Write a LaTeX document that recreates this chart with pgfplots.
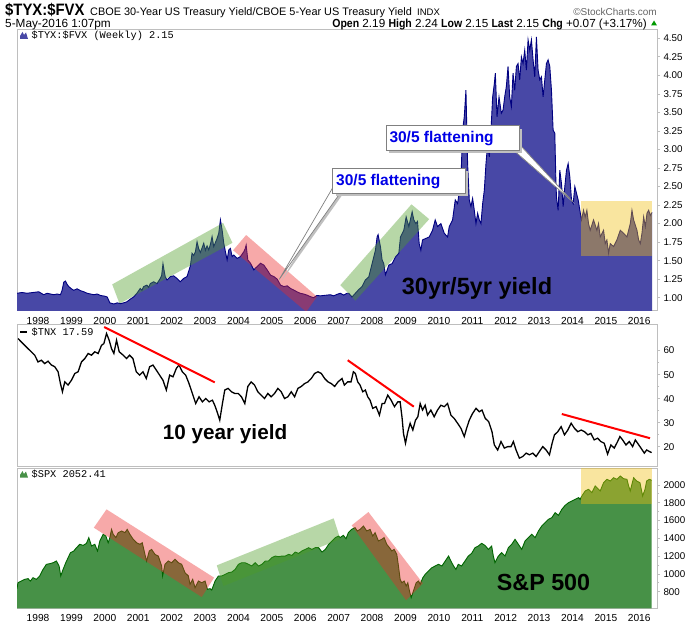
\documentclass[border=0pt]{standalone}
\usepackage{fontspec}
\setmainfont{Liberation Sans}
\newfontfamily\monofont{Liberation Mono}
\newfontfamily\narrowfont[FakeStretch=0.9]{Liberation Sans}
\usepackage{pgfplots}
\pgfplotsset{compat=1.18}
\usepackage{pgfplotstable}

\definecolor{blueArea}{RGB}{72,72,166}
\definecolor{blueLine}{RGB}{0,0,128}
\definecolor{spxArea}{RGB}{71,145,71}
\definecolor{spxLine}{RGB}{0,100,0}
\definecolor{bandGreen}{RGB}{77,157,37}
\definecolor{bandPink}{RGB}{235,40,40}
\definecolor{bandYellow}{RGB}{242,192,17}
\definecolor{frameGray}{RGB}{190,190,190}
\definecolor{boxGray}{RGB}{128,128,128}
\definecolor{calloutBlue}{RGB}{0,0,230}

\pgfplotstableread{
x y
1997.37 1.06
1997.52 1.07
1997.67 1.06
1997.85 1.07
1998.02 1.08
1998.17 1.04
1998.27 1.06
1998.37 1.05
1998.47 1.04
1998.57 1.05
1998.67 1.04
1998.72 1.10
1998.77 1.21
1998.82 1.225
1998.87 1.18
1998.92 1.15
1999.00 1.12
1999.07 1.10
1999.17 1.12
1999.27 1.095
1999.37 1.08
1999.47 1.06
1999.57 1.05
1999.67 1.04
1999.77 1.05
1999.87 1.03
2000.00 1.02
2000.07 1.01
2000.15 0.93
2000.27 0.915
2000.37 0.93
2000.47 0.92
2000.56 0.93
2000.66 0.945
2000.76 0.98
2000.86 1.01
2000.96 1.06
2001.06 1.125
2001.11 1.10
2001.16 1.15
2001.26 1.17
2001.31 1.14
2001.36 1.19
2001.46 1.215
2001.56 1.19
2001.66 1.26
2001.70 1.30
2001.74 1.46
2001.78 1.35
2001.81 1.28
2001.86 1.24
2001.96 1.285
2002.06 1.295
2002.16 1.26
2002.26 1.215
2002.36 1.26
2002.46 1.285
2002.56 1.43
2002.61 1.60
2002.66 1.57
2002.71 1.62
2002.76 1.755
2002.81 1.66
2002.86 1.61
2002.96 1.735
2003.01 1.64
2003.06 1.70
2003.11 1.645
2003.16 1.72
2003.21 1.825
2003.26 1.69
2003.36 1.80
2003.41 1.87
2003.46 2.05
2003.51 1.915
2003.56 1.735
2003.61 1.62
2003.66 1.51
2003.71 1.645
2003.76 1.665
2003.81 1.555
2003.86 1.575
2003.96 1.53
2004.06 1.555
2004.16 1.62
2004.20 1.66
2004.23 1.71
2004.28 1.51
2004.36 1.465
2004.46 1.375
2004.51 1.40
2004.56 1.42
2004.66 1.465
2004.76 1.44
2004.86 1.375
2004.96 1.305
2005.06 1.285
2005.16 1.25
2005.26 1.17
2005.36 1.15
2005.46 1.16
2005.56 1.125
2005.65 1.105
2005.75 1.08
2005.85 1.06
2005.95 1.05
2006.05 1.035
2006.15 1.015
2006.25 1.00
2006.35 1.03
2006.45 1.025
2006.55 1.03
2006.65 1.035
2006.75 1.04
2006.85 1.025
2006.95 1.045
2007.05 1.06
2007.15 1.035
2007.25 1.06
2007.30 1.06
2007.40 1.01
2007.50 1.06
2007.60 1.11
2007.70 1.15
2007.80 1.24
2007.90 1.28
2008.00 1.46
2008.10 1.64
2008.15 1.82
2008.18 1.85
2008.25 1.69
2008.30 1.51
2008.35 1.46
2008.40 1.31
2008.45 1.37
2008.50 1.44
2008.60 1.46
2008.70 1.55
2008.80 1.60
2008.85 1.82
2008.95 1.91
2009.02 2.09
2009.10 1.96
2009.20 2.16
2009.25 2.05
2009.31 2.00
2009.36 2.03
2009.41 1.73
2009.46 1.64
2009.51 1.78
2009.61 1.80
2009.71 1.82
2009.81 1.91
2009.89 2.05
2009.96 1.96
2010.06 2.00
2010.16 1.87
2010.26 1.82
2010.31 1.96
2010.41 2.05
2010.49 2.32
2010.56 2.27
2010.66 2.59
2010.71 3.26
2010.76 3.44
2010.81 3.80
2010.86 2.81
2010.91 2.32
2010.96 2.23
2011.01 2.34
2011.06 2.18
2011.11 2.00
2011.16 2.14
2011.21 2.05
2011.26 2.00
2011.31 2.27
2011.36 2.45
2011.41 2.81
2011.46 3.08
2011.51 2.90
2011.56 3.26
2011.61 3.71
2011.66 3.89
2011.69 4.03
2011.74 3.44
2011.80 3.71
2011.87 3.49
2011.92 3.53
2011.97 3.71
2012.02 3.85
2012.07 4.12
2012.12 3.71
2012.17 3.58
2012.22 4.03
2012.27 3.80
2012.32 4.12
2012.37 4.16
2012.42 3.94
2012.47 4.25
2012.52 4.16
2012.57 4.34
2012.62 4.07
2012.67 4.48
2012.72 4.34
2012.77 4.48
2012.82 4.21
2012.87 3.98
2012.92 4.52
2012.97 4.07
2013.02 3.94
2013.07 3.98
2013.12 3.71
2013.17 3.94
2013.22 4.16
2013.27 4.21
2013.32 4.12
2013.37 3.80
2013.42 3.26
2013.47 3.22
2013.50 2.63
2013.52 2.36
2013.57 2.18
2013.62 2.72
2013.67 2.54
2013.72 2.23
2013.77 2.50
2013.82 2.72
2013.87 2.81
2013.92 2.63
2013.97 2.32
2014.02 2.27
2014.07 2.50
2014.12 2.41
2014.17 2.32
2014.22 2.18
2014.27 2.05
2014.33 2.18
2014.38 2.09
2014.43 2.18
2014.48 2.00
2014.53 1.91
2014.63 2.05
2014.73 1.91
2014.78 2.00
2014.83 1.82
2014.93 1.91
2014.98 1.73
2015.03 1.78
2015.08 1.60
2015.13 1.73
2015.23 1.69
2015.33 1.78
2015.43 1.91
2015.53 1.87
2015.63 1.82
2015.73 2.00
2015.78 2.18
2015.83 2.05
2015.93 1.91
2015.98 1.78
2016.03 1.73
2016.08 1.87
2016.13 2.09
2016.18 1.96
2016.23 2.14
2016.28 2.18
2016.33 2.11
2016.38 2.15
}\tyx

\pgfplotstableread{
x y
1997.40 65.0
1997.50 63.6
1997.60 62.2
1997.70 60.8
1997.80 59.5
1997.90 58.1
1998.00 55.3
1998.10 56.0
1998.20 54.6
1998.30 55.6
1998.40 54.0
1998.50 53.3
1998.60 51.2
1998.67 46.3
1998.73 42.9
1998.80 47.0
1998.90 45.7
1999.00 47.7
1999.10 50.5
1999.20 51.2
1999.30 55.3
1999.40 56.7
1999.50 58.8
1999.60 58.1
1999.70 59.5
1999.80 58.8
1999.90 62.2
1999.97 62.9
2000.05 67.1
2000.13 64.3
2000.20 60.8
2000.27 58.8
2000.35 64.3
2000.43 59.5
2000.55 58.1
2000.65 56.7
2000.74 58.1
2000.84 56.7
2000.94 51.2
2001.04 49.8
2001.14 51.2
2001.24 48.4
2001.34 53.3
2001.44 54.0
2001.54 51.9
2001.64 49.8
2001.74 47.7
2001.84 43.6
2001.94 49.8
2002.04 49.1
2002.14 52.6
2002.22 54.0
2002.32 51.2
2002.42 49.8
2002.52 46.3
2002.62 42.2
2002.72 38.0
2002.82 40.8
2002.92 38.7
2003.02 40.1
2003.12 38.7
2003.22 39.4
2003.29 37.3
2003.36 34.6
2003.44 31.1
2003.52 38.0
2003.59 43.6
2003.69 44.3
2003.79 42.9
2003.89 42.2
2003.99 42.2
2004.09 40.8
2004.19 38.0
2004.28 45.1
2004.38 47.0
2004.48 45.7
2004.58 42.9
2004.68 41.5
2004.78 40.1
2004.88 42.2
2004.98 40.8
2005.08 42.2
2005.18 44.3
2005.28 42.9
2005.38 40.1
2005.48 40.8
2005.58 42.9
2005.68 40.8
2005.78 44.3
2005.88 45.1
2005.98 46.3
2006.08 47.0
2006.18 48.4
2006.28 50.5
2006.38 51.2
2006.48 50.5
2006.58 48.4
2006.68 47.0
2006.78 46.3
2006.88 45.1
2006.98 47.0
2007.10 48.4
2007.17 45.7
2007.27 47.0
2007.37 47.0
2007.44 51.2
2007.50 50.5
2007.57 47.0
2007.64 45.7
2007.72 42.9
2007.80 43.6
2007.87 40.8
2007.94 39.4
2008.02 36.0
2008.12 36.7
2008.22 33.2
2008.30 38.0
2008.37 38.0
2008.47 41.5
2008.57 39.4
2008.67 36.7
2008.77 38.7
2008.84 38.7
2008.90 31.8
2008.94 25.6
2009.00 21.5
2009.07 26.3
2009.14 29.8
2009.22 27.0
2009.30 31.1
2009.37 32.5
2009.44 38.0
2009.51 35.3
2009.59 37.3
2009.66 33.2
2009.76 35.3
2009.86 32.5
2009.96 35.3
2010.06 37.3
2010.16 36.7
2010.26 38.0
2010.36 33.2
2010.46 31.8
2010.56 29.8
2010.66 27.7
2010.76 24.3
2010.83 27.7
2010.91 31.1
2011.01 33.9
2011.11 36.0
2011.21 34.6
2011.29 35.3
2011.39 31.8
2011.49 30.5
2011.59 26.3
2011.66 20.8
2011.76 18.7
2011.86 22.2
2011.96 19.5
2012.06 20.1
2012.16 20.1
2012.23 22.2
2012.31 18.7
2012.41 15.3
2012.51 16.0
2012.61 17.4
2012.71 16.7
2012.81 17.4
2012.91 16.0
2013.01 18.1
2013.11 20.1
2013.21 18.7
2013.31 16.7
2013.39 21.5
2013.46 25.0
2013.56 26.3
2013.66 28.4
2013.76 25.0
2013.86 27.0
2013.96 29.8
2014.06 27.7
2014.16 26.3
2014.26 27.0
2014.36 26.3
2014.46 25.0
2014.55 25.6
2014.65 22.9
2014.75 23.6
2014.85 22.2
2014.95 21.5
2015.05 17.0
2015.15 20.8
2015.25 19.5
2015.35 22.2
2015.42 24.3
2015.50 22.9
2015.60 20.8
2015.70 22.2
2015.80 20.1
2015.88 22.9
2015.95 21.5
2016.05 19.5
2016.15 17.4
2016.22 18.7
2016.30 18.1
2016.37 17.6
}\tnx

\pgfplotstableread{
x y
1997.37 834
1997.40 901
1997.50 920
1997.60 939
1997.70 947
1997.77 920
1997.85 958
1997.95 939
1998.05 977
1998.15 1051
1998.25 1108
1998.35 1115
1998.45 1126
1998.55 1145
1998.63 1089
1998.68 977
1998.75 1051
1998.83 1126
1998.90 1183
1998.97 1239
1999.07 1258
1999.15 1295
1999.25 1333
1999.35 1321
1999.45 1344
1999.52 1408
1999.60 1314
1999.70 1333
1999.78 1258
1999.85 1370
1999.95 1445
2000.03 1426
2000.10 1351
2000.15 1408
2000.20 1501
2000.25 1445
2000.33 1408
2000.40 1464
2000.50 1483
2000.60 1464
2000.67 1501
2000.75 1445
2000.85 1389
2000.95 1351
2001.05 1333
2001.12 1351
2001.20 1220
2001.25 1145
2001.33 1258
2001.40 1276
2001.50 1220
2001.60 1201
2001.70 1089
2001.73 977
2001.80 1108
2001.90 1145
2002.00 1126
2002.10 1164
2002.20 1126
2002.30 1108
2002.40 1014
2002.50 977
2002.55 883
2002.63 939
2002.70 845
2002.80 920
2002.90 901
2003.00 920
2003.07 827
2003.15 834
2003.20 819
2003.30 920
2003.40 977
2003.50 977
2003.60 995
2003.70 1014
2003.80 1021
2003.90 1051
2004.00 1108
2004.10 1126
2004.20 1126
2004.30 1108
2004.40 1089
2004.50 1126
2004.60 1089
2004.70 1108
2004.80 1145
2004.90 1145
2005.00 1183
2005.10 1201
2005.20 1194
2005.30 1201
2005.40 1201
2005.50 1220
2005.60 1209
2005.70 1246
2005.80 1231
2005.90 1258
2006.00 1276
2006.10 1295
2006.20 1276
2006.30 1295
2006.40 1295
2006.50 1246
2006.60 1276
2006.70 1333
2006.80 1370
2006.90 1408
2007.00 1426
2007.04 1408
2007.14 1434
2007.22 1396
2007.29 1464
2007.39 1501
2007.49 1520
2007.56 1483
2007.64 1501
2007.74 1539
2007.84 1483
2007.94 1501
2008.02 1426
2008.09 1464
2008.19 1370
2008.29 1389
2008.36 1408
2008.44 1333
2008.52 1295
2008.59 1258
2008.66 1276
2008.74 1220
2008.79 1089
2008.84 939
2008.89 901
2008.96 920
2009.02 864
2009.07 901
2009.12 808
2009.17 733
2009.22 789
2009.27 845
2009.32 901
2009.39 920
2009.44 883
2009.52 958
2009.59 995
2009.69 1033
2009.79 1070
2009.89 1089
2009.99 1108
2010.09 1089
2010.19 1145
2010.29 1201
2010.36 1145
2010.44 1089
2010.51 1051
2010.58 1108
2010.68 1089
2010.78 1145
2010.88 1201
2010.98 1231
2011.08 1295
2011.18 1314
2011.28 1344
2011.38 1321
2011.48 1276
2011.58 1314
2011.63 1201
2011.68 1126
2011.78 1201
2011.88 1239
2011.98 1201
2012.08 1295
2012.18 1333
2012.28 1389
2012.38 1333
2012.48 1276
2012.58 1370
2012.68 1408
2012.78 1445
2012.88 1408
2012.98 1483
2013.08 1539
2013.18 1576
2013.28 1614
2013.38 1633
2013.48 1689
2013.58 1659
2013.68 1726
2013.78 1771
2013.88 1801
2013.98 1820
2014.08 1839
2014.18 1858
2014.23 1839
2014.28 1876
2014.38 1933
2014.48 1951
2014.58 1914
2014.68 1989
2014.73 1970
2014.83 1933
2014.93 2026
2015.03 2064
2015.13 2045
2015.23 2082
2015.33 2064
2015.43 2101
2015.53 2071
2015.63 2064
2015.68 1990
2015.73 1933
2015.78 2010
2015.83 2082
2015.92 2045
2016.02 2026
2016.10 1876
2016.17 1951
2016.22 2045
2016.30 2064
2016.37 2052
}\spx

\pgfplotsset{
  panel/.style={
    scale only axis, width=640pt, anchor=south west,
    xmin=1997.37, xmax=2016.53,
    axis line style={draw=frameGray, line width=1pt},
    ytick pos=right, yticklabel pos=right,
    tick align=outside,
    major tick length=3pt, minor tick length=2pt,
    every tick/.style={draw=frameGray, line width=0.8pt},
    /pgf/number format/assume math mode=true,
    /pgf/number format/1000 sep={},
    yticklabel style={font=\fontsize{9.8}{10}\selectfont, anchor=west},
    xticklabel style={font=\fontsize{10.2}{11}\selectfont},
    xtick={1998,1999,...,2016},
  }
}

\begin{document}
\begin{tikzpicture}
\path[use as bounding box, fill=white] (0pt,0pt) rectangle (700pt,624pt);

% ---------- Panel 1 ----------
\begin{axis}[panel, at={(17pt,313pt)}, height=281pt,
  ymin=0.8205, ymax=4.6127,
  ytick={1,1.25,1.5,1.75,2,2.25,2.5,2.75,3,3.25,3.5,3.75,4,4.25,4.5},
  yticklabel style={/pgf/number format/.cd, fixed, fixed zerofill, precision=2},
  xtick pos=bottom, xtick style={draw=none}]
\addplot[draw=none, fill=blueArea] table {\tyx} \closedcycle;
\addplot[blueLine, line width=0.9pt] table {\tyx};
\fill[bandGreen, opacity=0.4] (axis cs:2000.22,1.18) -- (axis cs:2003.54,2.01) -- (axis cs:2003.82,1.74) -- (axis cs:2000.44,0.92) -- cycle;
\fill[bandPink, opacity=0.4] (axis cs:2004.23,1.846) -- (axis cs:2006.35,1.014) -- (axis cs:2006.03,0.81) -- (axis cs:2003.84,1.64) -- cycle;
\fill[bandGreen, opacity=0.4] (axis cs:2007.05,1.17) -- (axis cs:2009.18,2.26) -- (axis cs:2009.71,2.06) -- (axis cs:2007.50,0.96) -- cycle;
\fill[bandYellow, opacity=0.4] (axis cs:2014.25,1.56) rectangle (axis cs:2016.38,2.30);
\end{axis}

% ---------- Panel 2 ----------
\begin{axis}[panel, at={(17pt,158pt)}, height=141pt,
  ymin=12.05, ymax=70.64,
  ytick={20,30,40,50,60}, minor y tick num=1,
  xtick pos=top, xticklabels={}]
\addplot[black, line width=1.3pt] table {\tnx};
\draw[red, line width=2pt] (axis cs:1999.98,69.8) -- (axis cs:2003.29,46.8);
\draw[red, line width=2pt] (axis cs:2007.27,56.0) -- (axis cs:2009.25,36.7);
\draw[red, line width=2pt] (axis cs:2013.68,33.65) -- (axis cs:2016.32,23.6);
\end{axis}

% ---------- Panel 3 ----------
\begin{axis}[panel, at={(17pt,15.7pt)}, height=139.8pt,
  ymin=613.4, ymax=2185.6,
  ytick={800,1000,1200,1400,1600,1800,2000}, minor y tick num=1,
  xtick pos=bottom, xtick style={draw=none}]
\addplot[draw=none, fill=spxArea] table {\spx} \closedcycle;
\addplot[spxLine, line width=0.9pt] table {\spx};
\fill[bandPink, opacity=0.4] (axis cs:2000.05,1726) -- (axis cs:2003.27,958) -- (axis cs:2002.90,740) -- (axis cs:1999.67,1520) -- cycle;
\fill[bandGreen, opacity=0.4] (axis cs:2003.35,1096) -- (axis cs:2006.85,1625) -- (axis cs:2007.05,1393) -- (axis cs:2003.55,864) -- cycle;
\fill[bandPink, opacity=0.4] (axis cs:2007.39,1546) -- (axis cs:2007.89,1696) -- (axis cs:2009.52,894) -- (axis cs:2009.02,703) -- cycle;
\fill[bandYellow, opacity=0.4] (axis cs:2014.25,1783) rectangle (axis cs:2016.38,2200);
\end{axis}

% ---------- Header texts ----------
\node[anchor=base west, inner sep=0pt] at (5pt,608.5pt) {\narrowfont\bfseries\fontsize{16.5}{17}\selectfont \$TYX:\$FVX};
\node[anchor=base west, inner sep=0pt] at (90pt,608.5pt) {\fontsize{10.9}{12}\selectfont CBOE 30-Year US Treasury Yield/CBOE 5-Year US Treasury Yield};
\node[anchor=base west, inner sep=0pt] at (417pt,608.5pt) {\fontsize{9.5}{10}\selectfont INDX};
\node[anchor=base east, inner sep=0pt, text=black!60] at (657pt,608.5pt) {\fontsize{10}{10}\selectfont ©StockCharts.com};
\node[anchor=base west, inner sep=0pt] at (5pt,596.5pt) {\fontsize{11.8}{12}\selectfont 5-May-2016 1:07pm};
\node[anchor=base east, inner sep=0pt] at (647pt,596.5pt) {\fontsize{11.7}{12}\selectfont {\narrowfont\bfseries Open} 2.19 {\narrowfont\bfseries High} 2.24 {\narrowfont\bfseries Low} 2.15 {\narrowfont\bfseries Last} 2.15 {\narrowfont\bfseries Chg} +0.07 (+3.17\%)};
\fill[green!60!black] (651pt,598.5pt) -- (657pt,598.5pt) -- (654pt,603.5pt) -- cycle;

% ---------- Legends ----------
\fill[blueArea] (20pt,585pt) -- (20pt,588pt) -- (22.5pt,592pt) -- (24pt,589pt) -- (26pt,591.5pt) -- (28pt,585pt) -- cycle;
\node[anchor=base west, inner sep=0pt] at (31.5pt,585pt) {\monofont\fontsize{10.3}{11}\selectfont \$TYX:\$FVX (Weekly) 2.15};
\fill[black] (20pt,290.5pt) rectangle (26.5pt,292.5pt);
\node[anchor=base west, inner sep=0pt] at (31.5pt,288pt) {\monofont\fontsize{10.3}{11}\selectfont \$TNX 17.59};
\fill[spxArea] (20pt,146.3pt) -- (20pt,149pt) -- (22.5pt,153pt) -- (24pt,150pt) -- (26pt,152.5pt) -- (28pt,146.3pt) -- cycle;
\node[anchor=base west, inner sep=0pt] at (31.5pt,146.3pt) {\monofont\fontsize{10.3}{11}\selectfont \$SPX 2052.41};

% ---------- Big labels ----------
\node[anchor=base west, inner sep=0pt] at (401.7pt,329pt) {\bfseries\fontsize{23.5}{24}\selectfont 30yr/5yr yield};
\node[anchor=base west, inner sep=0pt] at (162.7pt,184.7pt) {\bfseries\fontsize{20.7}{22}\selectfont 10 year yield};
\node[anchor=base west, inner sep=0pt] at (496.7pt,34pt) {\bfseries\fontsize{23.3}{24}\selectfont S\&P 500};

% ---------- Callouts ----------
% pointer 2 (lower callout)
\fill[black!25] (335.3pt,435.3pt) -- (342pt,428.7pt) -- (281.3pt,342.7pt) -- cycle;
\filldraw[fill=white, draw=boxGray, line width=0.7pt] (333.3pt,437.3pt) -- (340pt,430.7pt) -- (279.3pt,344.7pt) -- cycle;
\fill[black!25] (335.7pt,427.7pt) rectangle (468pt,452.7pt);
\filldraw[fill=white, draw=boxGray, line width=0.8pt] (332.7pt,430.7pt) rectangle (465pt,455.7pt);
\node[anchor=base west, inner sep=0pt, text=calloutBlue] at (336pt,438pt) {\bfseries\fontsize{15.5}{16}\selectfont 30/5 flattening};
% pointer 1 (upper callout)
\fill[black!25] (515.3pt,472pt) -- (522pt,477pt) -- (574.7pt,420.3pt) -- cycle;
\filldraw[fill=white, draw=boxGray, line width=0.7pt] (513.3pt,474pt) -- (520pt,479pt) -- (572.7pt,422.3pt) -- cycle;
\fill[black!25] (389pt,471pt) rectangle (522.3pt,495.3pt);
\filldraw[fill=white, draw=boxGray, line width=0.8pt] (386pt,474pt) rectangle (519.3pt,498.3pt);
\node[anchor=base west, inner sep=0pt, text=calloutBlue] at (389.3pt,481.3pt) {\bfseries\fontsize{15.5}{16}\selectfont 30/5 flattening};
\end{tikzpicture}
\end{document}
